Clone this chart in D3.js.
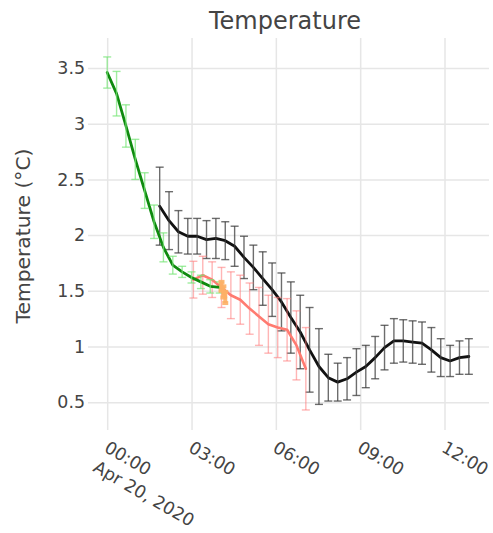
<!DOCTYPE html>
<html>
<head>
<meta charset="utf-8">
<script src="https://cdn.jsdelivr.net/npm/d3@7/dist/d3.min.js"></script>
<style>
  body { margin: 0; background: #fff; }
  svg text { font-family: "DejaVu Sans", Verdana, sans-serif; fill: #444; }
</style>
</head>
<body>
<svg id="chart" width="493" height="533"></svg>
<script>
// Temperature readings, Apr 20, 2020 (times are HH:MM on that day)
const greenTimes  = ["00:00","00:20","00:40","01:00","01:20","01:40","02:00","02:20","02:40","03:00","03:20","03:40","04:00"];
const greenValues = [3.46, 3.27, 2.98, 2.68, 2.40, 2.12, 1.89, 1.73, 1.67, 1.62, 1.58, 1.54, 1.53];
const greenErrors = [0.14, 0.20, 0.19, 0.18, 0.16, 0.15, 0.13, 0.08, 0.05, 0.05, 0.06, 0.06, 0.05];

const orangeTimes  = ["04:04","04:08","04:12"];
const orangeValues = [1.54, 1.49, 1.44];
const orangeErrors = [0.04, 0.05, 0.05];

const redTimes  = ["03:04","03:24","03:44","04:04","04:24","04:44","05:04","05:24","05:44","06:04","06:24","06:44","07:04"];
const redValues = [1.60, 1.64, 1.60, 1.53, 1.46, 1.42, 1.34, 1.27, 1.20, 1.17, 1.15, 1.01, 0.80];
const redErrors = [0.165, 0.17, 0.16, 0.18, 0.21, 0.22, 0.23, 0.26, 0.26, 0.27, 0.28, 0.31, 0.37];

const blackTimes  = ["01:52","02:12","02:32","02:52","03:12","03:32","03:52","04:12","04:32","04:52",
                     "05:12","05:32","05:52","06:12","06:32","06:52","07:12","07:32","07:52","08:12",
                     "08:32","08:52","09:12","09:32","09:52","10:12","10:32","10:52","11:12","11:32",
                     "11:52","12:12","12:32","12:52"];
const blackValues = [2.26, 2.13, 2.03, 1.99, 1.99, 1.96, 1.97, 1.95, 1.90, 1.80,
                     1.71, 1.61, 1.51, 1.40, 1.26, 1.13, 0.97, 0.82, 0.72, 0.68,
                     0.71, 0.77, 0.82, 0.90, 0.99, 1.05, 1.05, 1.04, 1.03, 0.97,
                     0.90, 0.87, 0.90, 0.91];
const blackErrors = [0.35, 0.26, 0.19, 0.16, 0.16, 0.17, 0.18, 0.17, 0.18, 0.19,
                     0.20, 0.24, 0.24, 0.26, 0.32, 0.33, 0.38, 0.34, 0.21, 0.17,
                     0.19, 0.21, 0.19, 0.19, 0.20, 0.20, 0.19, 0.19, 0.19, 0.20,
                     0.17, 0.14, 0.15, 0.16];

const xTickTimes = ["00:00","03:00","06:00","09:00","12:00"];
const yTickValues = [0.5, 1, 1.5, 2, 2.5, 3, 3.5];

const day = "2020-04-20";
const parse = d3.timeParse("%Y-%m-%d %H:%M");
const toDate = hm => parse(day + " " + hm);

const svg = d3.select("#chart");
const plot = { left: 88, right: 489, top: 38, bottom: 430 };

const x = d3.scaleTime()
  .domain([parse("2020-04-19 23:19"), parse("2020-04-20 13:35")])
  .range([plot.left, plot.right]);
const y = d3.scaleLinear()
  .domain([0.25, 3.77])
  .range([plot.bottom, plot.top]);

// Title
svg.append("text")
  .attr("x", 285).attr("y", 29)
  .attr("text-anchor", "middle")
  .style("font-size", "24px")
  .text("Temperature");

// Horizontal grid + y tick labels
const yAxis = svg.append("g")
  .attr("transform", `translate(${plot.left},0)`)
  .call(d3.axisLeft(y).tickValues(yTickValues).tickFormat(d3.format("~g"))
        .tickSize(-(plot.right - plot.left)).tickPadding(3));
yAxis.select(".domain").remove();
yAxis.selectAll(".tick line").attr("stroke", "#e6e6e6").attr("stroke-width", 1.5);
yAxis.selectAll(".tick text").style("font-size", "17.4px").attr("fill", "#444");

// Vertical grid
const xAxis = svg.append("g")
  .attr("transform", `translate(0,${plot.bottom})`)
  .call(d3.axisBottom(x).tickValues(xTickTimes.map(toDate))
        .tickSize(-(plot.bottom - plot.top)).tickFormat(""));
xAxis.select(".domain").remove();
xAxis.selectAll(".tick line").attr("stroke", "#e6e6e6").attr("stroke-width", 1.5);

// Rotated x tick labels
const fmt = d3.timeFormat("%H:%M");
xTickTimes.forEach((t, i) => {
  const d = toDate(t);
  const g = svg.append("g")
    .attr("transform", `translate(${x(d) - 4},451) rotate(30)`);
  const txt = g.append("text").style("font-size", "17.4px").attr("text-anchor", "start");
  txt.append("tspan").attr("x", 0).attr("y", 0).text(fmt(d));
  if (i === 0) {
    txt.append("tspan").attr("x", 0).attr("dy", "1.3em").text(d3.timeFormat("%b %-d, %Y")(d));
  }
});

// Y axis title
svg.append("text")
  .attr("transform", "translate(30,236) rotate(-90)")
  .attr("text-anchor", "middle")
  .style("font-size", "20.3px")
  .text("Temperature (°C)");

// Series with error bars
function drawSeries(times, values, errors, lineColor, barColor, lineWidth, barWidth, cap) {
  const data = times.map((t, i) => ({ t: toDate(t), v: values[i], e: errors[i] }));
  const g = svg.append("g");
  const line = d3.line().x(d => x(d.t)).y(d => y(d.v));
  g.append("path").datum(data)
    .attr("d", line).attr("fill", "none")
    .attr("stroke", lineColor).attr("stroke-width", lineWidth)
    .attr("stroke-linejoin", "round").attr("stroke-linecap", "round");
  const bars = g.selectAll(".eb").data(data).join("g")
    .attr("stroke", barColor).attr("stroke-width", barWidth).attr("fill", "none");
  bars.append("line")
    .attr("x1", d => x(d.t)).attr("x2", d => x(d.t))
    .attr("y1", d => y(d.v - d.e)).attr("y2", d => y(d.v + d.e));
  bars.append("line")
    .attr("x1", d => x(d.t) - cap).attr("x2", d => x(d.t) + cap)
    .attr("y1", d => y(d.v + d.e)).attr("y2", d => y(d.v + d.e));
  bars.append("line")
    .attr("x1", d => x(d.t) - cap).attr("x2", d => x(d.t) + cap)
    .attr("y1", d => y(d.v - d.e)).attr("y2", d => y(d.v - d.e));
}

drawSeries(blackTimes, blackValues, blackErrors, "#111", "rgba(60,60,60,0.75)", 2.8, 1.4, 4);
drawSeries(redTimes, redValues, redErrors, "#ff7b70", "rgba(255,120,120,0.55)", 2.6, 1.4, 4);
drawSeries(greenTimes, greenValues, greenErrors, "#0f8a0f", "rgba(120,230,120,0.7)", 2.8, 1.4, 4);
drawSeries(orangeTimes, orangeValues, orangeErrors, "#fdb066", "rgba(253,176,102,0.9)", 4, 4, 3);
</script>
</body>
</html>
